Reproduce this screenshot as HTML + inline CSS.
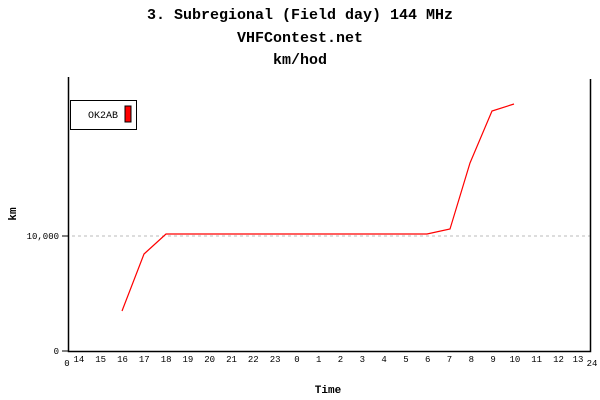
<!DOCTYPE html>
<html><head><style>body{margin:0;background:#fff}svg{display:block}</style></head><body>
<svg width="600" height="400" xmlns="http://www.w3.org/2000/svg" font-family="Liberation Mono, DejaVu Sans Mono, monospace">
<rect width="600" height="400" fill="#fff"/>
<g font-size="15" font-weight="bold" text-anchor="middle" fill="#000">
<text x="300" y="19">3. Subregional (Field day) 144 MHz</text>
<text x="300" y="42">VHFContest.net</text>
<text x="300" y="64">km/hod</text>
<text x="328" y="393" font-size="11">Time</text>
<text x="16" y="214" font-size="11" transform="rotate(-90 16 214)">km</text>
</g>
<line x1="72" y1="236" x2="590" y2="236" stroke="#bbb" stroke-dasharray="3,3"/>
<path d="M68.5 77V351.5H590.5V79" fill="none" stroke="#000" stroke-width="1.5"/>
<line x1="62" y1="236" x2="68" y2="236" stroke="#000"/>
<line x1="62" y1="351" x2="68" y2="351" stroke="#000"/>
<g font-size="9" fill="#000" text-anchor="end">
<text x="59" y="239">10,000</text>
<text x="59" y="354">0</text>
</g>
<g font-size="9" fill="#000" text-anchor="middle">
<text x="67" y="366">0</text>
<text x="592" y="366">24</text>
<text x="78.9" y="362">14</text><text x="100.7" y="362">15</text><text x="122.5" y="362">16</text><text x="144.3" y="362">17</text><text x="166.1" y="362">18</text><text x="187.9" y="362">19</text><text x="209.7" y="362">20</text><text x="231.5" y="362">21</text><text x="253.3" y="362">22</text><text x="275.1" y="362">23</text><text x="296.9" y="362">0</text><text x="318.7" y="362">1</text><text x="340.5" y="362">2</text><text x="362.3" y="362">3</text><text x="384.1" y="362">4</text><text x="405.9" y="362">5</text><text x="427.7" y="362">6</text><text x="449.5" y="362">7</text><text x="471.3" y="362">8</text><text x="493.1" y="362">9</text><text x="514.9" y="362">10</text><text x="536.7" y="362">11</text><text x="558.5" y="362">12</text><text x="578" y="362">13</text>
</g>
<polyline points="122,311 144,254 166,234 427,234 450,229 470,163 492,111 514,104" fill="none" stroke="#f00" stroke-width="1.2"/>
<rect x="70.5" y="100.5" width="66" height="29" fill="#fff" stroke="#000"/>
<text x="88" y="118" font-size="10" fill="#000">OK2AB</text>
<rect x="125" y="106" width="6" height="16" fill="#f00" stroke="#000"/>
</svg>
</body></html>
